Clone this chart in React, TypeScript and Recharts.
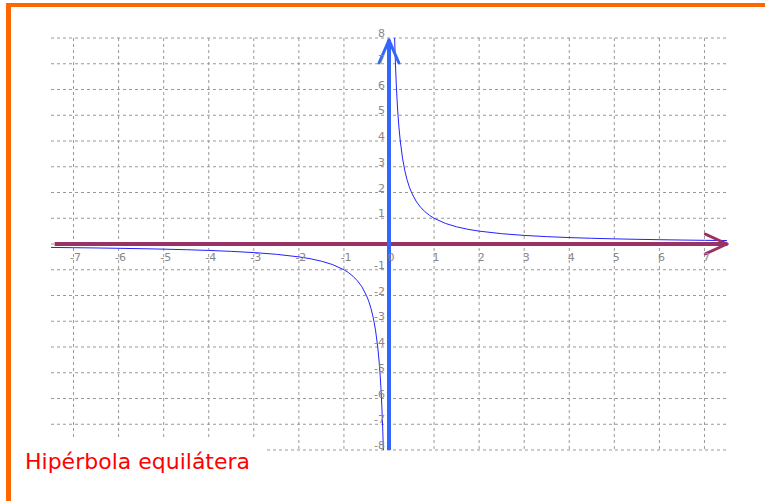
import React from "react";
import { LineChart, Line, XAxis, YAxis, CartesianGrid, ReferenceLine, ReferenceDot } from "recharts";

// readings of the curve y = 1/x, left and right branches
const leftX = [-7.5, -7, -6.5, -6, -5.5, -5, -4.5, -4, -3.5, -3, -2.5, -2, -1.75, -1.5, -1.25, -1, -0.9, -0.8, -0.7, -0.6, -0.5, -0.45, -0.4, -0.35, -0.3, -0.25, -0.22, -0.2, -0.18, -0.16, -0.14, -0.125];
const leftY = [-0.133, -0.143, -0.154, -0.167, -0.182, -0.2, -0.222, -0.25, -0.286, -0.333, -0.4, -0.5, -0.571, -0.667, -0.8, -1, -1.111, -1.25, -1.429, -1.667, -2, -2.222, -2.5, -2.857, -3.333, -4, -4.545, -5, -5.556, -6.25, -7.143, -8];
const rightX = [0.125, 0.14, 0.16, 0.18, 0.2, 0.22, 0.25, 0.3, 0.35, 0.4, 0.45, 0.5, 0.6, 0.7, 0.8, 0.9, 1, 1.25, 1.5, 1.75, 2, 2.5, 3, 3.5, 4, 4.5, 5, 5.5, 6, 6.5, 7, 7.5];
const rightY = [8, 7.143, 6.25, 5.556, 5, 4.545, 4, 3.333, 2.857, 2.5, 2.222, 2, 1.667, 1.429, 1.25, 1.111, 1, 0.8, 0.667, 0.571, 0.5, 0.4, 0.333, 0.286, 0.25, 0.222, 0.2, 0.182, 0.167, 0.154, 0.143, 0.133];

const xTicks = [-7, -6, -5, -4, -3, -2, -1, 0, 1, 2, 3, 4, 5, 6, 7];
const yTicks = [-8, -7, -6, -5, -4, -3, -2, -1, 0, 1, 2, 3, 4, 5, 6, 7, 8];
const yLabels = [8, 7, 6, 5, 4, 3, 2, 1, -1, -2, -3, -4, -5, -6, -7, -8];

const leftData = leftX.map((x, i) => ({ x, y: leftY[i] }));
const rightData = rightX.map((x, i) => ({ x, y: rightY[i] }));

const labelFont = "DejaVu Sans, sans-serif";

export default function App() {
  return (
    <div style={{ position: "absolute", left: 0, top: 0, width: 765, height: 501, background: "#fff" }}>
      <div style={{ position: "absolute", left: 6, top: 3, width: 759, height: 4, background: "#ff6600" }} />
      <div style={{ position: "absolute", left: 6, top: 3, width: 5, height: 498, background: "#ff6600" }} />
      <div style={{ position: "absolute", left: 0, top: 0 }}>
        <LineChart width={765} height={501} margin={{ top: 38, right: 38, bottom: 51, left: 51 }}>
          <CartesianGrid stroke="#999" strokeDasharray="3 3" syncWithTicks />
          <XAxis type="number" dataKey="x" domain={[-7.5, 7.5]} ticks={xTicks} hide />
          <YAxis type="number" dataKey="y" domain={[-8, 8]} ticks={yTicks} hide />
          {xTicks.map((t) => (
            <ReferenceDot
              key={"xl" + t}
              x={t}
              y={0}
              r={0}
              stroke="none"
              label={{
                content: (p: any) => (
                  <text x={p.viewBox.x + 2} y={p.viewBox.y + 17} textAnchor="middle" fill="#888" fontSize={11} fontFamily={labelFont}>
                    {t}
                  </text>
                ),
              }}
            />
          ))}
          {yLabels.map((t) => (
            <ReferenceDot
              key={"yl" + t}
              x={0}
              y={t}
              r={0}
              stroke="none"
              label={{
                content: (p: any) => (
                  <text x={p.viewBox.x - 4} y={p.viewBox.y - 1} textAnchor="end" fill="#888" fontSize={11} fontFamily={labelFont}>
                    {t}
                  </text>
                ),
              }}
            />
          ))}
          <Line data={leftData} dataKey="y" type="linear" stroke="#2222ff" strokeWidth={1} dot={false} isAnimationActive={false} />
          <Line data={rightData} dataKey="y" type="linear" stroke="#2222ff" strokeWidth={1} dot={false} isAnimationActive={false} />
          <ReferenceLine segment={[{ x: -7.42, y: 0 }, { x: 7.5, y: 0 }]} stroke="#993366" strokeWidth={4} />
          <ReferenceLine segment={[{ x: 7.02, y: 0.38 }, { x: 7.5, y: 0 }]} stroke="#993366" strokeWidth={3} strokeLinecap="round" />
          <ReferenceLine segment={[{ x: 7.02, y: -0.38 }, { x: 7.5, y: 0 }]} stroke="#993366" strokeWidth={3} strokeLinecap="round" />
          <ReferenceLine segment={[{ x: 0, y: -8 }, { x: 0, y: 7.92 }]} stroke="#3366ff" strokeWidth={4} />
          <ReferenceLine segment={[{ x: -0.22, y: 7.03 }, { x: 0, y: 7.92 }]} stroke="#3366ff" strokeWidth={3} strokeLinecap="round" />
          <ReferenceLine segment={[{ x: 0.22, y: 7.03 }, { x: 0, y: 7.92 }]} stroke="#3366ff" strokeWidth={3} strokeLinecap="round" />
        </LineChart>
      </div>
      <div
        style={{
          position: "absolute",
          left: 12,
          top: 440,
          width: 253,
          height: 61,
          background: "#fff",
        }}
      >
        <div style={{ position: "absolute", left: 13, top: 9, color: "#ff0000", fontSize: 22, fontFamily: labelFont, whiteSpace: "nowrap" }}>
          Hipérbola equilátera
        </div>
      </div>
    </div>
  );
}
